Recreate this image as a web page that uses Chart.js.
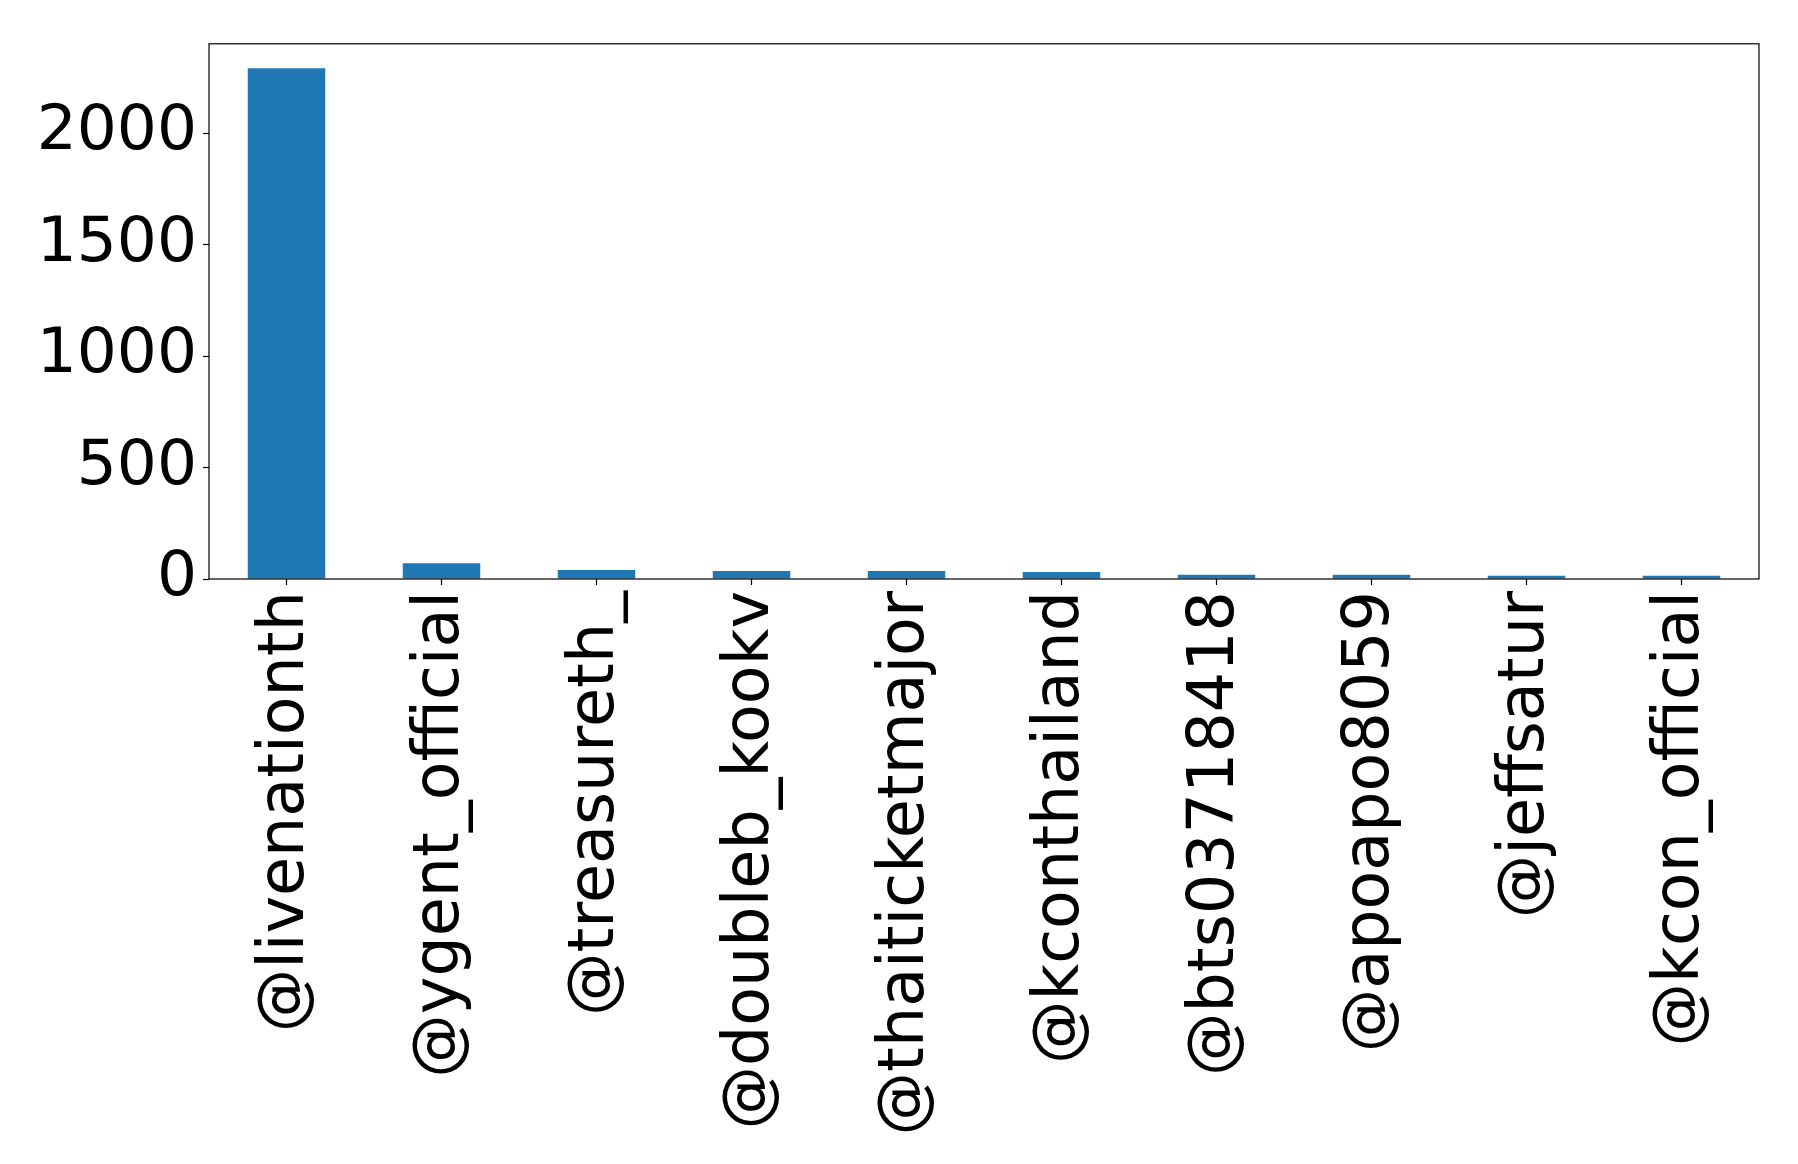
<!DOCTYPE html>
<html>
<head>
<meta charset="utf-8">
<script src="https://cdn.jsdelivr.net/npm/chart.js@4"></script>
<style>
html,body{margin:0;padding:0;background:#fff;}
#wrap{width:1798px;height:1164px;position:relative;}
</style>
</head>
<body>
<div id="wrap"><canvas id="c" width="1798" height="1164"></canvas></div>
<script>
const categories = ["@livenationth","@ygent_official","@treasureth_","@doubleb_kookv","@thaiticketmajor","@kconthailand","@bts03718418","@apoapo8059","@jeffsatur","@kcon_official"];
const counts = [2290, 71, 40, 36, 36, 31, 19, 19, 15, 15];
const yTicks = [0, 500, 1000, 1500, 2000];

const FONT = "'DejaVu Sans', sans-serif";

const frame = {
  id: 'frame',
  afterDraw(chart) {
    const {ctx, chartArea: a} = chart;
    ctx.save();
    ctx.strokeStyle = '#000';
    ctx.lineWidth = 1.2;
    ctx.strokeRect(a.left, a.top, a.right - a.left, a.bottom - a.top);
    ctx.restore();
  }
};

new Chart(document.getElementById('c'), {
  type: 'bar',
  data: {
    labels: categories,
    datasets: [{
      data: counts,
      backgroundColor: '#1f77b4',
      borderWidth: 0,
      barPercentage: 0.5,
      categoryPercentage: 1.0
    }]
  },
  options: {
    responsive: false,
    animation: false,
    layout: {padding: {top: 41, right: 39, left: 0, bottom: 0}},
    plugins: {legend: {display: false}, tooltip: {enabled: false}},
    scales: {
      x: {
        offset: true,
        grid: {display: true, offset: false, drawOnChartArea: false, tickLength: 6, tickColor: '#000', tickWidth: 1.2},
        border: {display: false},
        ticks: {
          color: '#000',
          font: {family: FONT, size: 63.5},
          minRotation: 90, maxRotation: 90,
          padding: 6,
          autoSkip: false
        },
        afterFit(s) { s.height = 585; }
      },
      y: {
        min: 0,
        max: 2400,
        afterBuildTicks(s) { s.ticks = yTicks.map(v => ({value: v})); },
        grid: {display: true, drawOnChartArea: false, tickLength: 6, tickColor: '#000', tickWidth: 1.2},
        border: {display: false},
        ticks: {
          color: '#000',
          font: {family: FONT, size: 63},
          padding: 6,
          callback: (v) => String(v)
        },
        afterFit(s) { s.width = 209; }
      }
    }
  },
  plugins: [frame]
});
</script>
</body>
</html>
